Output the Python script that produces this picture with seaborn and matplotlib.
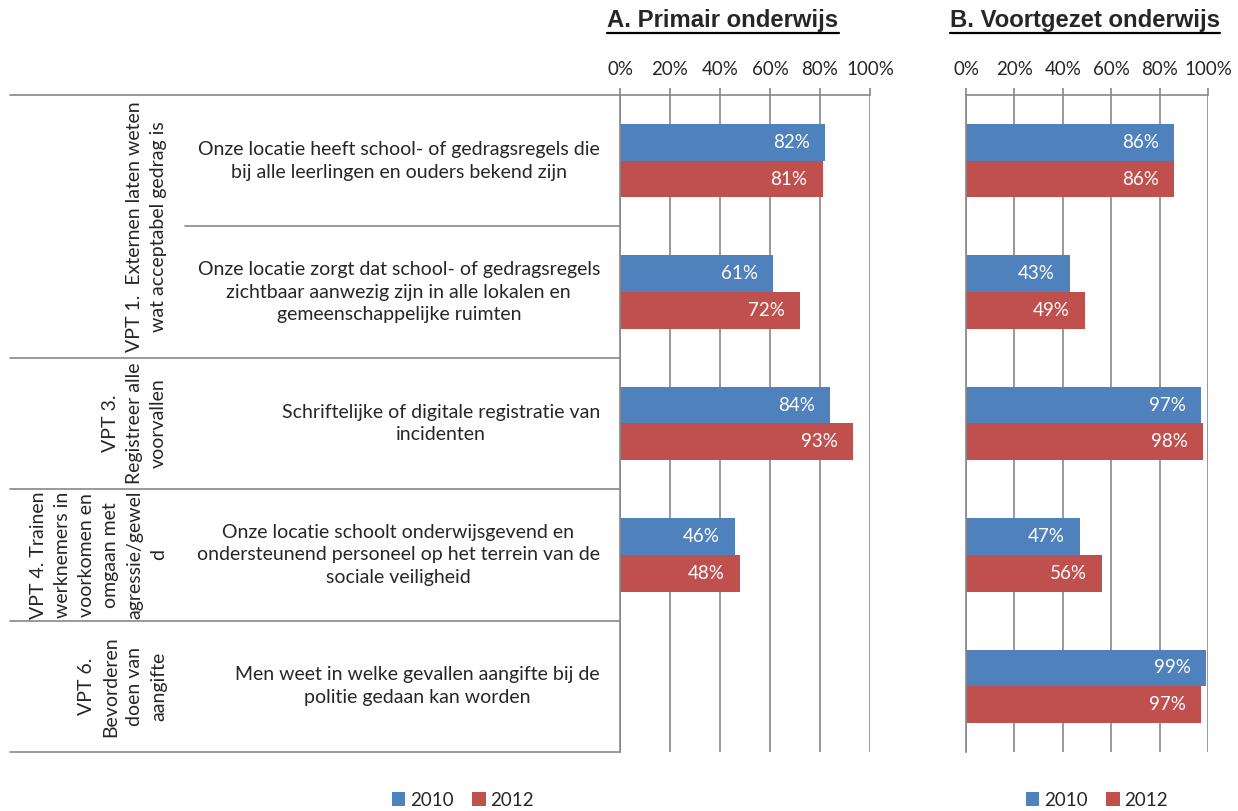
import matplotlib
matplotlib.use('Agg')
import matplotlib.pyplot as plt
import matplotlib.transforms as mtransforms
from matplotlib.lines import Line2D
import numpy as np
import pandas as pd
import seaborn as sns

# data
groups = ['VPT 1.  Externen laten weten\nwat acceptabel gedrag is',
          'VPT 3.\nRegistreer alle\nvoorvallen',
          'VPT 4. Trainen\nwerknemers in\nvoorkomen en\nomgaan met\nagressie/gewel\nd',
          'VPT 6.\nBevorderen\ndoen van\naangifte']
group_rows = [(0, 2), (2, 3), (3, 4), (4, 5)]
items = ['Onze locatie heeft school- of gedragsregels die\nbij alle leerlingen en ouders bekend zijn',
         'Onze locatie zorgt dat school- of gedragsregels\nzichtbaar aanwezig zijn in alle lokalen en\ngemeenschappelijke ruimten',
         'Schriftelijke of digitale registratie van\nincidenten',
         'Onze locatie schoolt onderwijsgevend en\nondersteunend personeel op het terrein van de\nsociale veiligheid',
         'Men weet in welke gevallen aangifte bij de\npolitie gedaan kan worden']
years = ['2010', '2012']
primair_2010 = [82, 61, 84, 46, np.nan]
primair_2012 = [81, 72, 93, 48, np.nan]
voortgezet_2010 = [86, 43, 97, 47, 99]
voortgezet_2012 = [86, 49, 98, 56, 97]
panel_titles = ['A. Primair onderwijs', 'B. Voortgezet onderwijs']
colors = ['#4F81BD', '#C0504D']


def long_df(v2010, v2012):
    df = pd.DataFrame({'item': items * 2,
                       'year': ['2010'] * len(items) + ['2012'] * len(items),
                       'value': list(v2010) + list(v2012)})
    return df.dropna()


sns.set_style('white')
plt.rcParams['font.family'] = ['Lato', 'DejaVu Sans']
grid_col = '#888888'
fs = 13.5

W, H = 1238, 811
fig = plt.figure(figsize=(W / 100, H / 100), dpi=100)

def px_axes(x0, x1, y0, y1):
    return fig.add_axes([x0 / W, 1 - y1 / H, (x1 - x0) / W, (y1 - y0) / H])

axA = px_axes(620, 870, 95, 752)
axB = px_axes(966, 1208, 95, 752)

panels = [(axA, long_df(primair_2010, primair_2012)),
          (axB, long_df(voortgezet_2010, voortgezet_2012))]

leg_items = {}
for ax, df in panels:
    sns.barplot(data=df, x='value', y='item', hue='year', order=items,
                hue_order=years, palette=colors, orient='h', width=0.56,
                saturation=1, linewidth=0, ax=ax, legend=True)
    ax.set_xlim(0, 100)
    ax.set_ylim(4.5, -0.5)
    ax.set_xticks(range(0, 101, 20))
    ax.set_xticklabels([f'{t}%' for t in range(0, 101, 20)], fontsize=fs)
    ax.xaxis.tick_top()
    ax.tick_params(axis='x', top=True, length=5, width=1.2, color=grid_col, pad=7)
    ax.set_yticks([])
    ax.set_xlabel('')
    ax.set_ylabel('')
    ax.grid(axis='x', color=grid_col, linewidth=1.2)
    ax.set_axisbelow(True)
    for s in ['right', 'bottom']:
        ax.spines[s].set_visible(False)
    for s in ['left', 'top']:
        ax.spines[s].set_color(grid_col)
        ax.spines[s].set_linewidth(1.2)
    for cont in ax.containers:
        for p in cont.patches:
            w = p.get_width()
            if np.isnan(w) or w <= 0:
                continue
            ax.annotate(f'{w:.0f}%', xy=(w, p.get_y() + p.get_height() / 2),
                        xytext=(-15, 0), textcoords='offset pixels',
                        ha='right', va='center', color='white', fontsize=fs)
    leg_items[ax] = ax.get_legend_handles_labels()
    ax.get_legend().remove()

# legends below each chart
for ax, cx in [(axA, 463), (axB, 1097)]:
    handles, labels = leg_items[ax]
    ax.legend(handles, labels, loc='center', bbox_to_anchor=(cx / W, 1 - 800 / H),
              bbox_transform=fig.transFigure, ncol=2, frameon=False,
              handlelength=0.7, handleheight=0.7, handletextpad=0.25,
              columnspacing=1.0, fontsize=fs)

# category table on the left
trans = mtransforms.blended_transform_factory(fig.transFigure, axA.transData)
for yb in [-0.5, 1.5, 2.5, 3.5, 4.5]:
    fig.add_artist(Line2D([10 / W, 620 / W], [yb, yb], transform=trans,
                          color=grid_col, linewidth=1.2))
fig.add_artist(Line2D([185 / W, 620 / W], [0.5, 0.5], transform=trans,
                      color=grid_col, linewidth=1.2))

for i, label in enumerate(items):
    fig.text(600 / W, i, label, transform=trans, ha='right', va='center',
             multialignment='center', fontsize=14, linespacing=1.42)

for label, (r0, r1) in zip(groups, group_rows):
    fig.text(167 / W, (r0 + r1 - 1) / 2, label, transform=trans, rotation=90,
             ha='right', va='center', multialignment='center', fontsize=14,
             linespacing=1.5)

# panel titles, bold and underlined
title_objs = []
for t, cx in zip(panel_titles, [723, 1085]):
    title_objs.append(fig.text(cx / W, 1 - 20 / H, t, ha='center', va='center',
                               family='Liberation Sans', weight='bold', fontsize=17.2))
fig.canvas.draw()
inv = fig.transFigure.inverted()
for tobj in title_objs:
    bb = tobj.get_window_extent().transformed(inv)
    fig.add_artist(Line2D([bb.x0, bb.x1], [bb.y0 - 1.5 / H, bb.y0 - 1.5 / H],
                          color='black', linewidth=1.6))

fig.savefig('out.png', dpi=100)
